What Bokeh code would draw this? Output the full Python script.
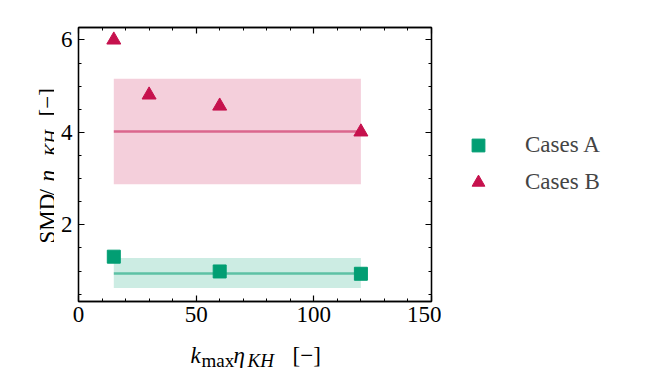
from bokeh.plotting import figure
from bokeh.models import (Range1d, LinearAxis, SingleIntervalTicker, Label,
                          Legend, LegendItem, ColumnDataSource)
from bokeh.layouts import row, column
from bokeh.embed import file_html
from bokeh.resources import INLINE

# ---- data ----
a_x = [15, 60, 120]
a_y = [1.31, 0.99, 0.94]
b_x = [15, 30, 60, 120]
b_y = [6.0, 4.81, 4.57, 4.01]
a_mean = 0.945
a_low, a_high = 0.63, 1.28
b_mean = 4.02
b_low, b_high = 2.88, 5.16
span_x = [15, 120]
series_labels = ["Cases A", "Cases B"]
x_ticks_interval = 50
y_ticks_interval = 2

GREEN = "#029E73"
RED = "#C6114D"
FONT = "Liberation Serif"

TOP, BOTTOM = 27, 32   # borders shared by every panel of the top row


def blank(width, height, top=0, bottom=0):
    f = figure(width=width, height=height, output_backend="svg", toolbar_location=None,
               x_range=Range1d(0, 1), y_range=Range1d(0, 1),
               min_border_left=0, min_border_right=0,
               min_border_top=top, min_border_bottom=bottom)
    f.axis.visible = False
    f.grid.visible = False
    f.outline_line_color = None
    f.background_fill_color = "white"
    f.border_fill_color = "white"
    return f


# ---- main plot ----
p = figure(width=387, height=333, output_backend="svg", toolbar_location=None,
           x_range=Range1d(0, 150), y_range=Range1d(0.34, 6.27),
           min_border_left=24, min_border_right=10, min_border_top=TOP,
           min_border_bottom=BOTTOM)
p.grid.visible = False
p.outline_line_color = "black"
p.outline_line_width = 1.3
p.background_fill_color = "white"
p.border_fill_color = "white"

xt = SingleIntervalTicker(interval=x_ticks_interval, num_minor_ticks=5)
yt = SingleIntervalTicker(interval=y_ticks_interval, num_minor_ticks=4)
p.xaxis.ticker = xt
p.yaxis.ticker = yt
p.add_layout(LinearAxis(ticker=xt), "above")
p.add_layout(LinearAxis(ticker=yt), "right")
for ax in p.axis:
    ax.major_tick_in = 6
    ax.major_tick_out = 0
    ax.minor_tick_in = 3
    ax.minor_tick_out = 0
    ax.axis_line_color = "black"
    ax.axis_line_width = 1.3
    ax.major_tick_line_width = 1.2
    ax.minor_tick_line_width = 1.0
    ax.major_label_text_font = FONT
    ax.major_label_text_font_size = "23px"
    ax.major_label_text_color = "black"
for ax in (p.above[0], p.right[0]):
    ax.major_label_text_color = None
    ax.major_label_text_font_size = "1px"
    ax.major_label_standoff = 0
p.xaxis[0].major_label_standoff = 4
p.yaxis[0].major_label_standoff = 6

src_a = ColumnDataSource(dict(x=span_x, lo=[a_low]*2, hi=[a_high]*2, m=[a_mean]*2))
src_b = ColumnDataSource(dict(x=span_x, lo=[b_low]*2, hi=[b_high]*2, m=[b_mean]*2))
p.varea(x="x", y1="lo", y2="hi", source=src_b, fill_color=RED, fill_alpha=0.2)
p.varea(x="x", y1="lo", y2="hi", source=src_a, fill_color=GREEN, fill_alpha=0.2)
p.line(x="x", y="m", source=src_b, line_color=RED, line_alpha=0.55, line_width=2.6)
p.line(x="x", y="m", source=src_a, line_color=GREEN, line_alpha=0.55, line_width=2.6)
p.scatter(a_x, a_y, marker="square", size=13, fill_color=GREEN, line_color=GREEN)
p.scatter(b_x, b_y, marker="triangle", size=14, fill_color=RED, line_color=RED)


def lab(fig, text, x, y, size="23px", style="normal", angle=0):
    fig.add_layout(Label(x=x, y=y, x_units="screen", y_units="screen", text=text,
                         text_font=FONT, text_font_size=size, text_font_style=style,
                         text_align="left", text_baseline="alphabetic", angle=angle,
                         text_color="black"))


# ---- y-axis label panel (frame spans the same rows as the main frame) ----
yl = blank(54, 333, TOP, BOTTOM)
A = 1.5707963267948966
lab(yl, "SMD", 47, 58, angle=A)
lab(yl, "/", 47, 106, angle=A)
lab(yl, "η", 47, 120, style="italic", angle=A)
lab(yl, "KH", 51, 145, size="19px", style="italic", angle=A)
lab(yl, "[−]", 47, 185, angle=A)

# ---- legend panel (its markers sit outside the visible range) ----
lg = blank(191, 333, TOP, BOTTOM)
ra = lg.scatter(a_x[:1], a_y[:1], marker="square", size=13, fill_color=GREEN, line_color=GREEN)
rb = lg.scatter(b_x[:1], b_y[:1], marker="triangle", size=14, fill_color=RED, line_color=RED)
legend = Legend(items=[LegendItem(label=series_labels[0], renderers=[ra]),
                       LegendItem(label=series_labels[1], renderers=[rb])],
                location=(21, 103), padding=0, margin=0, spacing=5,
                glyph_width=32, glyph_height=32, label_height=32,
                label_standoff=31, border_line_color=None,
                background_fill_alpha=0,
                label_text_font=FONT, label_text_font_size="23px")
lg.add_layout(legend, "center")

# ---- x-axis label panel ----
xl = blank(632, 40)
lab(xl, "k", 190, 18, style="italic")
lab(xl, "max", 201, 13, size="19px")
lab(xl, "η", 233, 18, style="italic")
lab(xl, "KH", 247, 13, size="19px", style="italic")
lab(xl, "[−]", 292, 18)

layout = column(row(yl, p, lg, spacing=0), xl, spacing=0)
open("out.html", "w").write(file_html(layout, INLINE))
